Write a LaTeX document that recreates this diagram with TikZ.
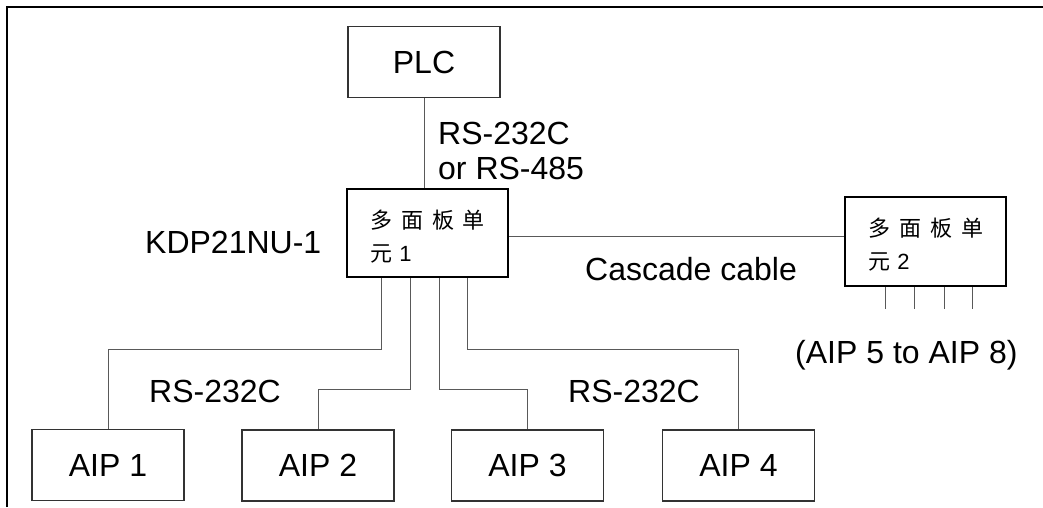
\documentclass[tikz,border=0pt]{standalone}
\usepackage{fontspec}
\setmainfont{Liberation Sans}
\newfontfamily\cjk{Noto Sans CJK SC}
\begin{document}
\begin{tikzpicture}[x=1pt,y=-1pt,
  every node/.style={inner sep=0pt, font=\fontsize{32}{35}\selectfont},
  thinbox/.style={draw=black!80, line width=1.2pt, minimum width=152pt, minimum height=71pt},
  unitbox/.style={draw=black, line width=2pt, minimum width=161pt, minimum height=88pt,
     align=left, text width=115pt, font=\fontsize{22}{33}\selectfont},
  wire/.style={draw=black!65, line width=1pt},
  lbl/.style={anchor=base west}]
\useasboundingbox (0,0) rectangle (1043,507);
\draw[line width=2pt] (7,507) -- (7,7) -- (1043,7);

% nodes
\node[thinbox] (plc) at (424,62) {PLC};
\node[unitbox] (u1) at (427.5,233) {\rule{0pt}{25pt}{\cjk 多\hspace{9pt}面\hspace{9pt}板\hspace{9pt}单}\\{\cjk 元} 1};
\node[unitbox, minimum height=89pt] (u2) at (925.5,241.5) {\rule{0pt}{25pt}{\cjk 多\hspace{9pt}面\hspace{9pt}板\hspace{9pt}单}\\{\cjk 元} 2};
\node[thinbox] (aip1) at (108,465) {AIP 1};
\node[thinbox] (aip2) at (318,465.5) {AIP 2};
\node[thinbox] (aip3) at (527.5,465.5) {AIP 3};
\node[thinbox] (aip4) at (738.5,465.5) {AIP 4};

% labels
\node[anchor=north west, align=left] (lplc) at (438,122) {RS-232C\\or RS-485};
\node[lbl] (lkdp) at (145,253) {KDP21NU-1};
\node[lbl] (lcas) at (585,280) {Cascade cable};
\node[lbl] (lrs1) at (149,402) {RS-232C};
\node[lbl] (lrs2) at (568,402) {RS-232C};
\node[lbl] (laip) at (795,363) {(AIP 5 to AIP 8)};

% connectors
\draw[wire] (plc.south) -- (plc.south |- u1.north);
\draw[wire] ([yshift=-3.7pt]u1.east) -- ([yshift=-3.7pt]u1.east -| u2.west);

\coordinate (b1) at (381,349);
\coordinate (b2) at (410,389);
\coordinate (b3) at (439,389);
\coordinate (b4) at (467,349);
\draw[wire] (b1 |- u1.south) -- (b1) -| (aip1.north);
\draw[wire] (b2 |- u1.south) -- (b2) -| (aip2.north);
\draw[wire] (b3 |- u1.south) -- (b3) -| (aip3.north);
\draw[wire] (b4 |- u1.south) -- (b4) -| (aip4.north);

\coordinate (s1) at (885.7,309);
\coordinate (s2) at (914.7,309);
\coordinate (s3) at (944,309);
\coordinate (s4) at (972.3,309);
\foreach \s in {s1,s2,s3,s4}
  \draw[wire] (\s |- u2.south) -- (\s);
\end{tikzpicture}
\end{document}
